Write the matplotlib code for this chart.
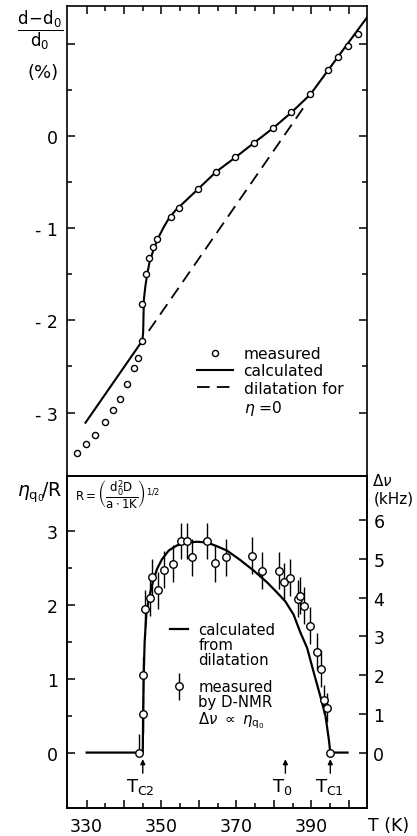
import numpy as np
import matplotlib.pyplot as plt
from matplotlib.lines import Line2D
from matplotlib.container import ErrorbarContainer
from matplotlib.legend_handler import HandlerErrorbar

plt.rcParams['font.family'] = 'DejaVu Sans'
plt.rcParams['mathtext.fontset'] = 'dejavusans'

# ---- top panel: dilatation (d-d0)/d0 in %
T_meas = [327.5, 329.9, 332.3, 335.0, 337.0, 338.9, 340.9, 342.7, 343.7, 344.9,
          344.7, 345.8, 346.7, 347.8, 348.9, 352.6, 354.8, 359.7, 364.6, 369.7,
          374.6, 379.8, 384.7, 389.8, 394.6, 397.1, 399.9, 402.4]
dil_meas = [-3.44, -3.34, -3.24, -3.10, -2.97, -2.85, -2.69, -2.52, -2.41, -2.22,
            -1.82, -1.50, -1.33, -1.21, -1.12, -0.875, -0.784, -0.578, -0.39, -0.235,
            -0.08, 0.083, 0.253, 0.452, 0.716, 0.85, 0.976, 1.103]

T_calc = [329.7, 344.9, 345.1, 345.3, 345.7, 346.1, 346.8, 347.9, 349.2, 350.6,
          351.9, 353.7, 355.0, 359.7, 364.6, 369.7, 374.6, 379.8, 384.7, 389.8,
          394.6, 397.1, 399.9, 402.4, 404.9]
dil_calc = [-3.11, -2.22, -2.13, -1.77, -1.63, -1.52, -1.37, -1.23, -1.10, -0.99,
            -0.90, -0.81, -0.76, -0.58, -0.39, -0.235, -0.08, 0.083, 0.253, 0.45,
            0.716, 0.854, 1.008, 1.146, 1.283]

# linear dilatation for eta = 0
T_lin = [346.6, 388.9]
dil_lin = [-2.115, 0.362]

# ---- bottom panel: order parameter eta_q0 / R
T_nmr = [343.9, 345.0, 345.1, 345.7, 347.0, 347.5, 349.0, 350.8, 353.1, 355.2,
         356.8, 358.1, 362.1, 364.4, 367.1, 374.2, 376.8, 381.4, 382.8, 384.2,
         386.4, 387.1, 388.0, 389.6, 391.5, 392.7, 393.3, 394.2, 395.1]
eta_nmr = [0.0, 0.52, 1.05, 1.95, 2.10, 2.38, 2.20, 2.48, 2.56, 2.87,
           2.87, 2.65, 2.87, 2.57, 2.65, 2.67, 2.47, 2.47, 2.32, 2.37,
           2.09, 2.13, 1.99, 1.72, 1.37, 1.14, 0.72, 0.61, 0.0]
err_lo = [0.0, 0.25, 0.25, 0.25, 0.25, 0.25, 0.25, 0.25, 0.25, 0.25,
          0.25, 0.25, 0.25, 0.25, 0.25, 0.25, 0.25, 0.25, 0.25, 0.25,
          0.25, 0.25, 0.25, 0.25, 0.25, 0.25, 0.2, 0.2, 0.0]
err_hi = [0.25, 0.25, 0.25, 0.25, 0.25, 0.25, 0.25, 0.25, 0.25, 0.25,
          0.25, 0.25, 0.25, 0.25, 0.25, 0.25, 0.25, 0.25, 0.25, 0.25,
          0.25, 0.25, 0.25, 0.25, 0.25, 0.25, 0.2, 0.2, 0.0]

T_eta = [330.0, 345.0, 345.1, 345.25, 345.5, 345.95, 346.6, 347.5, 348.8, 350.1,
         351.9, 354.1, 356.8, 359.5, 362.2, 364.8, 367.5, 371.1, 374.6, 378.2,
         380.9, 383.1, 385.3, 387.1, 388.9, 390.6, 392.4, 393.8, 394.7, 395.1, 399.7]
eta_calc = [0.0, 0.0, 0.55, 1.05, 1.5, 1.88, 2.08, 2.28, 2.49, 2.62,
            2.74, 2.81, 2.85, 2.86, 2.85, 2.80, 2.74, 2.61, 2.47, 2.31,
            2.17, 2.05, 1.87, 1.63, 1.42, 1.10, 0.77, 0.50, 0.18, 0.0, 0.0]

khz_per_eta = 1.902

trans_T = [345.0, 383.1, 395.1]
trans_lbl_T = [344.4, 382.3, 394.8]
trans_names = [r'T$_\mathregular{C2}$', r'T$_\mathregular{0}$', r'T$_\mathregular{C1}$']

xticks_major = [330, 340, 350, 360, 370, 380, 390, 400]
xtick_labels = ['330', '', '350', '', '370', '', '390', '']
xticks_minor = [335, 345, 355, 365, 375, 385, 395]

top_yticks = [1, 0, -1, -2, -3]
top_ylabels = ['', '0', '- 1', '- 2', '- 3']
top_yminor = [0.5, -0.5, -1.5, -2.5]

bot_yticks = [0, 1, 2, 3]
bot_yminor = [0.5, 1.5, 2.5]
khz_ticks = [0, 1, 2, 3, 4, 5, 6]

fig = plt.figure(figsize=(4.17, 8.37), dpi=100)
gs = fig.add_gridspec(2, 1, height_ratios=[470, 332], hspace=0,
                      left=0.1607, right=0.8801, top=0.9916, bottom=0.0331)
ax1 = fig.add_subplot(gs[0])
ax2 = fig.add_subplot(gs[1])
for ax in (ax1, ax2):
    ax.set_xlim(324.76, 404.9)
    for s in ax.spines.values():
        s.set_linewidth(1.2)

# top panel
h_calc, = ax1.plot(T_calc, dil_calc, '-', color='k', lw=1.5, zorder=2)
h_lin, = ax1.plot(T_lin, dil_lin, '--', color='k', lw=1.3, dashes=(7, 4), zorder=2)
h_meas, = ax1.plot(T_meas, dil_meas, 'o', ms=4.4, mfc='white', mec='k', mew=1.0, zorder=3)
ax1.set_ylim(-3.69, 1.407)
ax1.set_yticks(top_yticks)
ax1.set_yticklabels(top_ylabels)
ax1.set_yticks(top_yminor, minor=True)
ax1.set_xticks(xticks_major)
ax1.set_xticks(xticks_minor, minor=True)
ax1.tick_params(which='both', direction='in', top=True, bottom=False, left=True,
                right=True, labelbottom=False, labelsize=12.5, pad=6.5, width=1.1)
ax1.tick_params(which='major', length=6)
ax1.tick_params(which='minor', length=3.6)

blank = Line2D([], [], linestyle='none')
ax1.legend([h_meas, h_calc, h_lin, blank],
           ['measured', 'calculated', 'dilatation for', r'$\eta$ =0'],
           loc='upper left', bbox_to_anchor=(0.433, 0.2766), frameon=False,
           fontsize=11.2, handlelength=2.35, handletextpad=0.65, labelspacing=0.15,
           borderpad=0, borderaxespad=0, numpoints=1)

fig.text(40 / 417, 1 - 30 / 837, r'$\mathregular{\dfrac{d\!-\!d_0}{d_0}}$',
         ha='center', va='center', fontsize=12)
fig.text(43 / 417, 1 - 73 / 837, '(%)', ha='center', va='center', fontsize=13)

# bottom panel
h_eta, = ax2.plot(T_eta, eta_calc, '-', color='k', lw=1.6, zorder=2)
h_nmr = ax2.errorbar(T_nmr, eta_nmr, yerr=[err_lo, err_hi], fmt='o', ms=5.4,
                     mfc='white', mec='k', mew=1.0, ecolor='k', elinewidth=1.0,
                     capsize=0, zorder=3)
ax2.set_ylim(-0.756, 3.75)
ax2.set_yticks(bot_yticks)
ax2.set_yticks(bot_yminor, minor=True)
ax2.set_xticks(xticks_major)
ax2.set_xticklabels(xtick_labels)
ax2.set_xticks(xticks_minor, minor=True)
ax2.tick_params(which='both', direction='in', top=False, bottom=True, left=True,
                right=False, labelsize=12.5, pad=6.5, width=1.1)
ax2.tick_params(which='major', length=6)
ax2.tick_params(which='minor', length=3.6)

ax2r = ax2.twinx()
ax2r.set_ylim(-0.756 * khz_per_eta, 3.75 * khz_per_eta)
ax2r.set_yticks(khz_ticks)
ax2r.tick_params(direction='in', length=6, width=1.1, labelsize=12.5, pad=4.5)
for s in ax2r.spines.values():
    s.set_linewidth(1.2)

for t, tl, name in zip(trans_T, trans_lbl_T, trans_names):
    ax2.annotate('', xy=(t, -0.09), xytext=(t, -0.28),
                 arrowprops=dict(arrowstyle='-|>', color='k', lw=1.0,
                                 mutation_scale=7, shrinkA=0, shrinkB=0))
    ax2.text(tl, -0.45, name, ha='center', va='center', fontsize=13)

leg2 = ax2.legend([h_eta, blank, blank, blank, h_nmr, blank, blank],
                  ['calculated', 'from', 'dilatation', '', 'measured', 'by D-NMR',
                   r'$\Delta\nu\ \propto\ \eta_{\mathregular{q_0}}$'],
                  loc='upper left', bbox_to_anchor=(0.343, 0.561), frameon=False,
                  fontsize=10.7, handlelength=1.2, handletextpad=0.7, labelspacing=0.0,
                  borderpad=0, borderaxespad=0, numpoints=1,
                  handler_map={ErrorbarContainer: HandlerErrorbar(yerr_size=0.9)})
leg2.get_texts()[3].set_fontsize(6.5)

fig.text(17 / 417, 1 - 493 / 837, r'$\eta_{\mathregular{q_0}}\!/\mathregular{R}$',
         ha='left', va='center', fontsize=13.5)
fig.text(75 / 417, 1 - 495 / 837,
         r'$\mathregular{R=\left(\dfrac{d_0^2D}{a\cdot 1K}\right)^{1/2}}$',
         ha='left', va='center', fontsize=8.5)
fig.text(372 / 417, 1 - 481 / 837, r'$\Delta\nu$', ha='left', va='center', fontsize=11)
fig.text(374 / 417, 1 - 499 / 837, '(kHz)', ha='left', va='center', fontsize=11)
fig.text(368 / 417, 1 - 826 / 837, 'T (K)', ha='left', va='center', fontsize=12.5)

fig.savefig('out.png', dpi=100)
